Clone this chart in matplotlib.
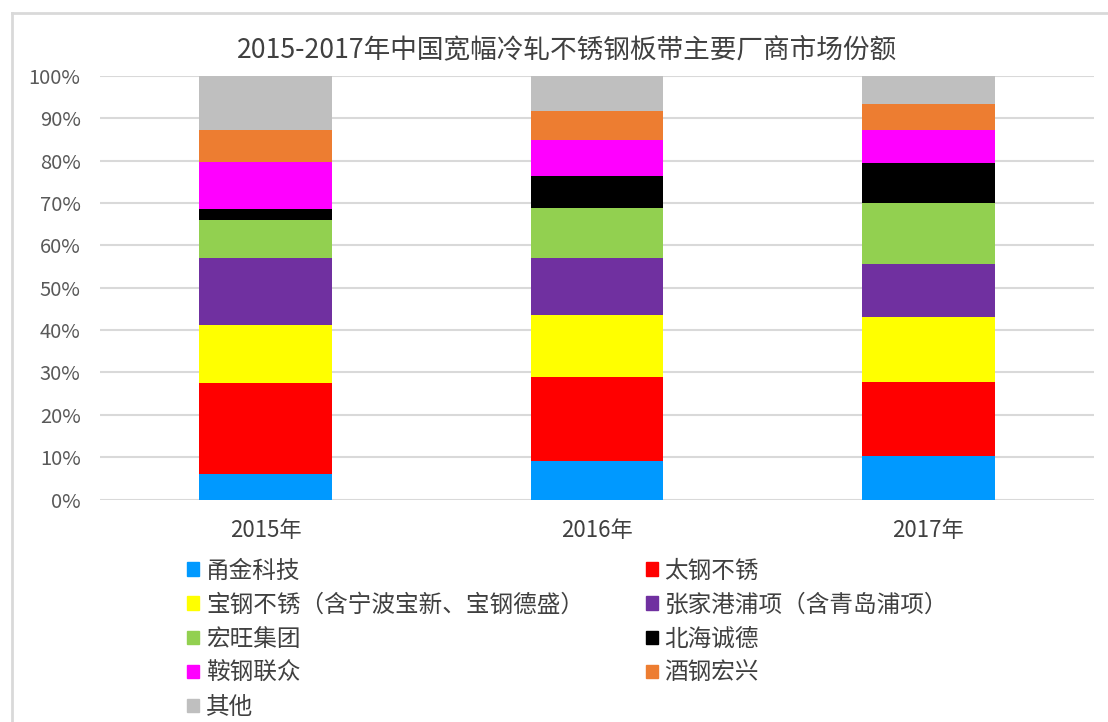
import matplotlib
matplotlib.use('Agg')
import matplotlib.pyplot as plt
from matplotlib.patches import Patch
from matplotlib.lines import Line2D
import numpy as np

plt.rcParams['font.family'] = ['Noto Sans CJK SC', 'DejaVu Sans']

years = ['2015年', '2016年', '2017年']
companies = ['甬金科技', '太钢不锈', '宝钢不锈（含宁波宝新、宝钢德盛）', '张家港浦项（含青岛浦项）',
             '宏旺集团', '北海诚德', '鞍钢联众', '酒钢宏兴', '其他']
colors = ['#0099ff', '#ff0000', '#ffff00', '#7030a0', '#92d050', '#000000', '#ff00ff', '#ed7d31', '#bfbfbf']

# share in %, per company, for 2015/2016/2017
yongjin = [6.0, 9.0, 10.2]
taigang = [21.5, 20.0, 17.6]
baogang = [13.6, 14.5, 15.4]
zhangjiagang = [16.0, 13.6, 12.4]
hongwang = [8.8, 11.8, 14.5]
beihai = [2.7, 7.5, 9.3]
angang = [11.2, 8.5, 7.9]
jiugang = [7.5, 6.9, 6.1]
qita = [12.7, 8.2, 6.6]
series = [yongjin, taigang, baogang, zhangjiagang, hongwang, beihai, angang, jiugang, qita]

fig = plt.figure(figsize=(11.08, 7.22), dpi=100)
ax = fig.add_axes([100/1108, 1 - 499.5/722, 994/1108, 423.5/722])

x = np.arange(len(years))
bottom = np.zeros(len(years))
for vals, c, name in zip(series, colors, companies):
    ax.bar(x, vals, 0.4, bottom=bottom, color=c, label=name, zorder=3)
    bottom += np.array(vals)

ax.set_xlim(-0.5, 2.5)
ax.set_ylim(0, 100)
ax.set_yticks(np.arange(0, 101, 10))
ax.set_yticklabels([f'{v}%' for v in range(0, 101, 10)])
ax.set_xticks(x)
ax.set_xticklabels(years)
ax.tick_params(axis='y', length=0, pad=14, labelsize=14.5, labelcolor='#595959')
ax.tick_params(axis='x', length=0, pad=14, labelsize=16, labelcolor='#404040')
ax.grid(axis='y', color='#d9d9d9', linewidth=1.5, zorder=0)
for s in ax.spines.values():
    s.set_visible(False)

fig.text(567/1108, 1 - 50/722, '2015-2017年中国宽幅冷轧不锈钢板带主要厂商市场份额',
         ha='center', va='center', fontsize=19.2, color='#404040')

# chart border (top and left edges)
fig.add_artist(Line2D([12/1108, 12/1108], [0, 1 - 13/722], transform=fig.transFigure, color='#d9d9d9', lw=2))
fig.add_artist(Line2D([12/1108, 1], [1 - 13/722, 1 - 13/722], transform=fig.transFigure, color='#d9d9d9', lw=2))

handles = [Patch(facecolor=c, edgecolor=c) for c in colors]
order = [0, 2, 4, 6, 8, 1, 3, 5, 7]
leg = fig.legend([handles[i] for i in order], [companies[i] for i in order], ncol=2,
                 loc='upper left', bbox_to_anchor=(178/1108, 1 - 550/722), frameon=False,
                 fontsize=17, handlelength=0.5, handleheight=0.5, handletextpad=0.3,
                 columnspacing=2.6, labelspacing=0.47, borderaxespad=0)
for t in leg.get_texts():
    t.set_color('#404040')

fig.savefig('out.png', dpi=100)
